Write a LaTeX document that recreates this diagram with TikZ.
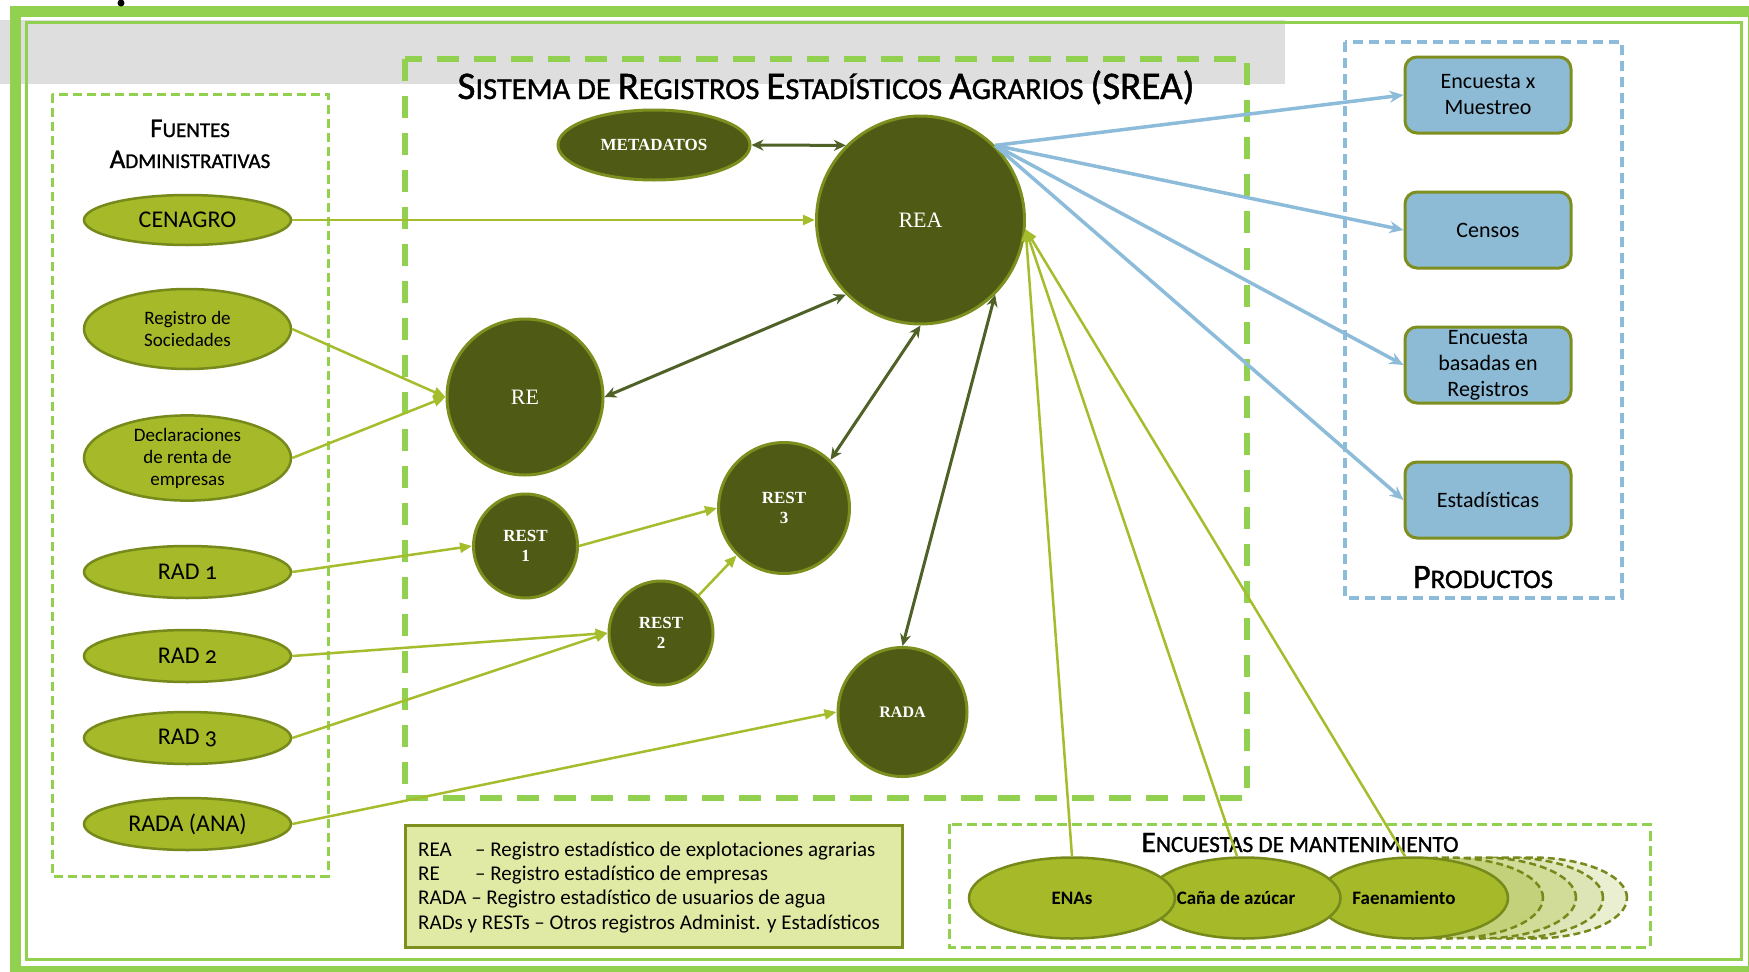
\documentclass[tikz,border=0pt]{standalone}
\usepackage{fontspec}
\setmainfont{Carlito}
\newfontfamily\onum[Numbers=OldStyle]{Carlito}
\newfontfamily\tfont[FakeBold=1.2]{Carlito}
\newfontfamily\serifb{Liberation Serif}
\usetikzlibrary{arrows.meta,shapes.geometric}
\definecolor{framegreen}{HTML}{92D050}
\definecolor{lightolive}{HTML}{A6B928}
\definecolor{olivebd}{HTML}{76891B}
\definecolor{darkolive}{HTML}{4F5B14}
\definecolor{darkbd}{HTML}{7A8F1E}
\definecolor{arrowgreen}{HTML}{A5BD2D}
\definecolor{darkarrow}{HTML}{4F6127}
\definecolor{prodblue}{HTML}{8DBBD6}
\definecolor{blueline}{HTML}{8CBCD9}
\definecolor{prodbd}{HTML}{7E8E1F}
\definecolor{legfill}{HTML}{E1EAA4}
\definecolor{ghostA}{HTML}{C3D27A}
\definecolor{ghostB}{HTML}{D1DC98}
\definecolor{ghostC}{HTML}{DDE5B6}
\definecolor{ghostD}{HTML}{E9EFD0}
\definecolor{bandgray}{HTML}{DEDEDE}
\newcommand{\fs}[2]{\fontsize{#1}{#2}\selectfont}
\newcommand{\scx}[2]{{\tfont\fs{30}{36}#1}{\tfont\fs{23.4}{28}#2}}
\begin{document}
\begin{tikzpicture}[x=1pt,y=-1pt,
  lell/.style={ellipse, draw=olivebd, fill=lightolive, line width=2.5pt, inner sep=0pt, minimum width=207pt, align=center},
  dnode/.style={ellipse, draw=darkbd, fill=darkolive, line width=3pt, inner sep=0pt, text=white, align=center},
  prod/.style={rectangle, rounded corners=12pt, draw=prodbd, fill=prodblue, line width=3pt, minimum width=166pt, minimum height=76pt, inner sep=0pt, align=center, font=\fs{22}{26}},
  sell/.style={ellipse, draw=olivebd, fill=lightolive, line width=2.5pt, inner sep=0pt, minimum height=81pt, font=\bfseries\fs{19}{22}},
  ghost/.style={ellipse, draw=olivebd, line width=2.5pt, dash pattern=on 7pt off 4pt, minimum width=190pt, minimum height=81pt, inner sep=0pt},
  garrow/.style={draw=arrowgreen, line width=2.5pt, -{Triangle[length=12pt,width=10pt]}},
  darrow/.style={draw=darkarrow, line width=3pt, {Stealth[length=12pt,width=11pt]}-{Stealth[length=12pt,width=11pt]}},
  barrow/.style={draw=blueline, line width=3.5pt, -{Stealth[length=14pt,width=12pt]}},
  gbox/.style={draw=framegreen, line width=3pt, dash pattern=on 9pt off 5pt},
]
\useasboundingbox (0,0) rectangle (1749,972);
\fill[white] (0,0) rectangle (1749,972);
% gray band
\fill[bandgray] (0,20) rectangle (1285,84);
% frame
\draw[framegreen, line width=11pt] (15,11.5) rectangle (1753,971);
\draw[framegreen, line width=3pt] (26,22.5) rectangle (1741.5,959.5);
\fill[black] (121,3) circle (3.5);

% boxes
\draw[gbox] (52,94) rectangle (328,876);
\draw[framegreen, line width=6pt, dash pattern=on 22pt off 15pt] (405,59) rectangle (1247,798);
\draw[draw=blueline, line width=4pt, dash pattern=on 10pt off 6pt] (1345,42) rectangle (1622,598);
\draw[gbox, dash pattern=on 10pt off 5pt] (949,824) rectangle (1650,947);
\draw[draw=prodbd, fill=legfill, line width=3pt] (405,825) rectangle (902,947);

% titles
\node[anchor=base, inner sep=0pt] (ttl) at (826,99) {\resizebox{737pt}{!}{\scx{S}{ISTEMA DE }\scx{R}{EGISTROS }\scx{E}{STADÍSTICOS }\scx{A}{GRARIOS }{\tfont\fs{30}{36}(SREA)}}};
\node[anchor=base, inner sep=0pt] (ft1) at (190,137) {{\tfont\fs{27}{30}F}{\tfont\fs{21}{24}UENTES}};
\node[anchor=base, inner sep=0pt] (ft2) at (190,168) {{\tfont\fs{27}{30}A}{\tfont\fs{21}{24}DMINISTRATIVAS}};
\node[anchor=base, inner sep=0pt] (prt) at (1483,588) {\resizebox{140pt}{!}{\scx{P}{RODUCTOS}}};
\node[anchor=base, inner sep=0pt] (enct) at (1300,852) {\resizebox{317pt}{!}{\scx{E}{NCUESTAS DE MANTENIMIENTO}}};

% legend
\node[anchor=base west, inner sep=0pt, font=\fs{21}{24}] (leg1) at (418,856) {\makebox[57pt][l]{REA}– Registro estadístico de explotaciones agrarias};
\node[anchor=base west, inner sep=0pt, font=\fs{21}{24}] (leg2) at (418,880) {\makebox[57pt][l]{RE}– Registro estadístico de empresas};
\node[anchor=base west, inner sep=0pt, font=\fs{21}{24}] (leg3) at (418,904) {RADA – Registro estadístico de usuarios de agua};
\node[anchor=base west, inner sep=0pt, font=\fs{21}{24}] (leg4) at (418,929) {RADs y RESTs – Otros registros Administ. y Estadísticos};

% left sources
\node[lell, minimum height=50pt, font=\fs{24}{28}] (cen) at (187.5,220) {CENAGRO};
\node[lell, minimum height=80pt, font=\fs{19}{22}] (soc) at (187.5,329) {Registro de\\Sociedades};
\node[lell, minimum height=80pt, font=\fs{19}{22}] (dec) at (187.5,458) {Declaraciones\\de renta de\\empresas};
\node[lell, minimum height=52pt, font=\onum\fs{24}{28}] (rad1) at (187.5,572) {RAD 1};
\node[lell, minimum height=52pt, font=\onum\fs{24}{28}] (rad2) at (187.5,656) {RAD 2};
\node[lell, minimum height=52pt, font=\onum\fs{24}{28}] (rad3) at (187.5,738) {RAD 3};
\node[lell, minimum height=52pt, font=\fs{24}{28}] (radaana) at (187.5,824) {RADA (ANA)};

% dark registers
\node[dnode, minimum width=192pt, minimum height=70pt, font=\serifb\bfseries\fs{17}{19}] (meta) at (654,145) {METADATOS};
\node[dnode, minimum width=208pt, minimum height=208pt, font=\serifb\fs{22}{24}] (rea) at (920.5,220) {REA};
\node[dnode, minimum width=156pt, minimum height=156pt, font=\serifb\fs{22}{24}] (re) at (525,397) {RE};
\node[dnode, minimum width=104pt, minimum height=104pt, font=\serifb\bfseries\fs{17}{20}] (rest1) at (525.5,546) {REST\\1};
\node[dnode, minimum width=131pt, minimum height=131pt, font=\serifb\bfseries\fs{17}{20}] (rest3) at (784,508) {REST\\3};
\node[dnode, minimum width=104pt, minimum height=104pt, font=\serifb\bfseries\fs{17}{20}] (rest2) at (661,633) {REST\\2};
\node[dnode, minimum width=129pt, minimum height=129pt, font=\serifb\bfseries\fs{16}{19}] (rada) at (902.5,712) {RADA};

% products
\node[prod] (p1) at (1488,95) {Encuesta x\\Muestreo};
\node[prod] (p2) at (1488,230) {Censos};
\node[prod] (p3) at (1488,365) {Encuesta\\basadas en\\Registros};
\node[prod] (p4) at (1488,500) {Estadísticas};

% maintenance surveys
\node[ghost, fill=ghostD] (g4) at (1532,898) {};
\node[ghost, fill=ghostC] (g3) at (1508,898) {};
\node[ghost, fill=ghostB] (g2) at (1481,898) {};
\node[ghost, fill=ghostA] (g1) at (1448,898) {};
\node[sell, minimum width=190pt] (fae) at (1413,898) {\hspace*{-18pt}Faenamiento};
\node[sell, minimum width=193pt] (cana) at (1244,898) {\hspace*{-16pt}Caña de azúcar};
\node[sell, minimum width=206pt] (enas) at (1072,898) {ENAs};

% green connectors
\draw[garrow] (cen.east) -- (rea.west);
\draw[garrow] (soc.east) -- (re.west);
\draw[garrow] (dec.east) -- (re.west);
\draw[garrow] (rad1.east) -- (rest1.west);
\draw[garrow] (rad2.east) -- (rest2.west);
\draw[garrow] (rad3.east) -- (rest2.west);
\draw[garrow] (radaana.east) -- (rada.west);
\draw[garrow] (rest1.east) -- (rest3.west);
\draw[garrow] (rest2.45) -- (rest3.225);
\draw[garrow] (enas.north) -- (rea.-5);
\draw[garrow] ([xshift=-7pt]cana.north) -- (rea.-5);
\draw[garrow] ([xshift=-8pt]fae.north) -- (rea.-5);

% dark connectors
\draw[darrow] (meta.east) -- (rea.135);
\draw[darrow] (re.east) -- (rea.225);
\draw[darrow] (rest3.46) -- (rea.south);
\draw[darrow] (rada.north) -- (rea.-45);

% blue connectors
\draw[barrow] (rea.45) -- (p1.west);
\draw[barrow] (rea.45) -- (p2.west);
\draw[barrow] (rea.45) -- (p3.west);
\draw[barrow] (rea.45) -- (p4.west);
\end{tikzpicture}
\end{document}
